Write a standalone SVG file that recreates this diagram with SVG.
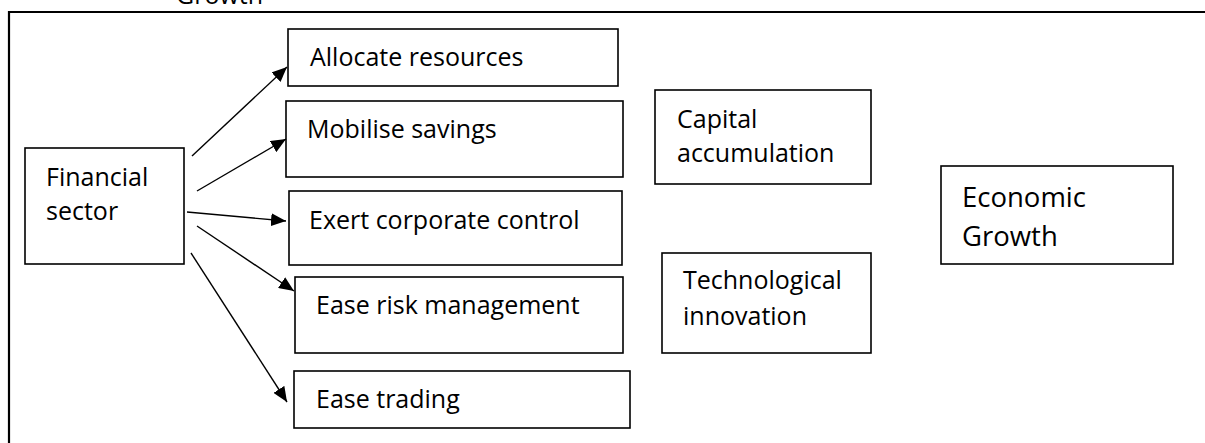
<svg xmlns="http://www.w3.org/2000/svg" width="1205" height="443" viewBox="0 0 1205 443">
  <defs>
    <style>
      .box { fill: #ffffff; stroke: #000000; stroke-width: 1.6; }
      .frame { fill: none; stroke: #000000; stroke-width: 2.2; }
      .lbl { font-family: "Open Sans", "Noto Sans", "Liberation Sans", sans-serif; font-size: 25px; fill: #000000; }
      .big { font-size: 27.5px; }
      .link { fill: none; stroke: #000000; stroke-width: 1.4; marker-end: url(#head); }
    </style>
    <marker id="head" markerUnits="userSpaceOnUse" markerWidth="16" markerHeight="13" refX="15" refY="6.5" orient="auto">
      <path d="M0,0 L15,6.5 L0,13 Z" fill="#000000"/>
    </marker>
  </defs>

  <rect width="1205" height="443" fill="#ffffff"/>

  <!-- heading line running off the top edge -->
  <text class="lbl" x="176" y="3.5">Growth</text>

  <!-- enclosing frame: top and left edges -->
  <path class="frame" d="M9,443 L9,12 L1205,12"/>

  <g id="financial-sector">
    <rect class="box" x="25" y="148" width="159" height="116"/>
    <text class="lbl" x="46" y="186">Financial</text>
    <text class="lbl" x="46" y="220">sector</text>
  </g>

  <g id="allocate-resources">
    <rect class="box" x="288" y="29" width="330" height="57"/>
    <text class="lbl" x="310" y="66">Allocate resources</text>
  </g>

  <g id="mobilise-savings">
    <rect class="box" x="286" y="101" width="337" height="76"/>
    <text class="lbl" x="307" y="138">Mobilise savings</text>
  </g>

  <g id="exert-corporate-control">
    <rect class="box" x="289" y="191" width="333" height="74"/>
    <text class="lbl" x="309" y="229">Exert corporate control</text>
  </g>

  <g id="ease-risk-management">
    <rect class="box" x="295" y="277" width="328" height="76"/>
    <text class="lbl" x="316" y="314">Ease risk management</text>
  </g>

  <g id="ease-trading">
    <rect class="box" x="294" y="371" width="336" height="57"/>
    <text class="lbl" x="316" y="408">Ease trading</text>
  </g>

  <g id="capital-accumulation">
    <rect class="box" x="655" y="90" width="216" height="94"/>
    <text class="lbl" x="677" y="128">Capital</text>
    <text class="lbl" x="677" y="162">accumulation</text>
  </g>

  <g id="technological-innovation">
    <rect class="box" x="662" y="253" width="209" height="100"/>
    <text class="lbl" x="683" y="289">Technological</text>
    <text class="lbl" x="683" y="325">innovation</text>
  </g>

  <g id="economic-growth">
    <rect class="box" x="941" y="166" width="232" height="98"/>
    <text class="lbl big" x="962" y="207">Economic</text>
    <text class="lbl big" x="962" y="246">Growth</text>
  </g>

  <g id="connectors">
    <line class="link" x1="192" y1="156" x2="287" y2="67"/>
    <line class="link" x1="197" y1="191" x2="286" y2="139"/>
    <line class="link" x1="187" y1="212" x2="286" y2="221"/>
    <line class="link" x1="197" y1="226" x2="294" y2="291"/>
    <line class="link" x1="191" y1="253" x2="287" y2="402"/>
  </g>
</svg>
